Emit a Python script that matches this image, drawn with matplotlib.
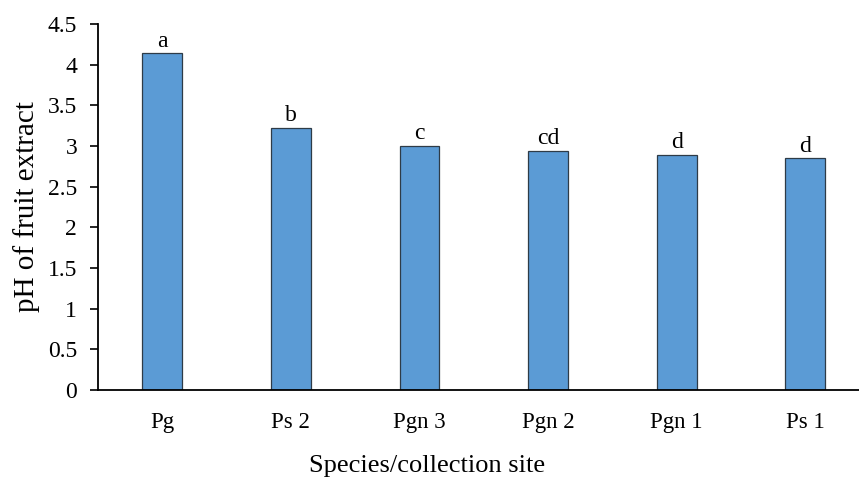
import numpy as np
import matplotlib.pyplot as plt

plt.rcParams['font.family'] = ['Liberation Serif', 'DejaVu Serif']

sites = ['Pg', 'Ps 2', 'Pgn 3', 'Pgn 2', 'Pgn 1', 'Ps 1']
ph = [4.14, 3.22, 3.00, 2.94, 2.89, 2.85]
letters = ['a', 'b', 'c', 'cd', 'd', 'd']

W, H = 859, 478
fig = plt.figure(figsize=(W / 100, H / 100), dpi=100)
ax = fig.add_axes([98 / W, (H - 390) / H, 1 - 98 / W, (390 - 24) / H])

x = np.arange(len(sites))
ax.bar(x, ph, width=0.31, color='#5B9BD5', edgecolor='#2E3B47', linewidth=0.9)
for xi, v, t in zip(x, ph, letters):
    ax.text(xi, v + 0.02, t, ha='center', va='bottom', fontsize=17)

ax.set_xlim(-0.5, (W - 98) / 128.6 - 0.5)
ax.set_ylim(0, 4.5)
ax.set_yticks(np.arange(0, 4.51, 0.5))
ax.set_yticklabels(['0', '0.5', '1', '1.5', '2', '2.5', '3', '3.5', '4', '4.5'])
ax.set_xticks(x)
ax.set_xticklabels(sites)
ax.tick_params(axis='y', labelsize=17, length=6, width=1.2, direction='out', pad=9)
ax.tick_params(axis='x', labelsize=16.5, length=0, pad=16)
ax.spines['top'].set_visible(False)
ax.spines['right'].set_visible(False)
ax.spines['left'].set_linewidth(1.3)
ax.spines['bottom'].set_linewidth(1.3)

ax.set_ylabel('pH of fruit extract', fontsize=21)
ax.yaxis.set_label_coords(-58 / 761, 0.5)
ax.set_xlabel('Species/collection site', fontsize=19)
ax.xaxis.set_label_coords((427 - 98) / 761, -65 / 366)

fig.savefig('out.png', dpi=100)
